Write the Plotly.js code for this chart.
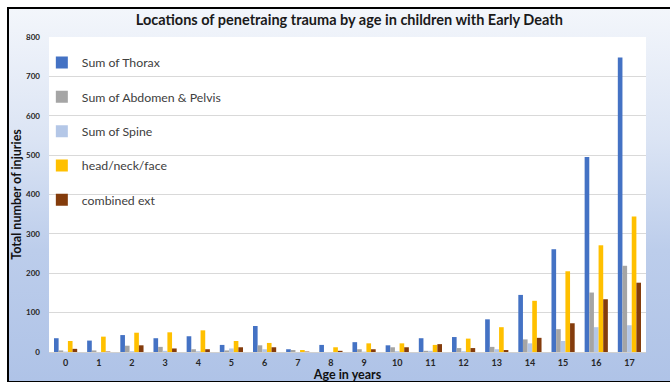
<!DOCTYPE html>
<html><head><meta charset="utf-8">
<script src="https://cdn.plot.ly/plotly-3.0.1.min.js"></script>
<style>
html,body{margin:0;padding:0;background:#fff;}
#wrap{position:relative;width:670px;height:382px;overflow:hidden;background:#fff;}
#bg{position:absolute;left:7px;top:7px;width:670px;height:372px;border-top:2px solid #000;border-left:2px solid #000;border-bottom:2px solid #000;
background:linear-gradient(to bottom,#f3f6fb 0%,#dbe4f4 35%,#bccdeb 65%,#afc3e7 100%);}
#chart{position:absolute;left:0;top:0;width:670px;height:382px;}
</style></head><body>
<div id="wrap"><div id="bg"></div><div id="chart"></div></div>
<script>
const ages = ['0','1','2','3','4','5','6','7','8','9','10','11','12','13','14','15','16','17'];
const thorax  = [35,29,43,35,40,18,66,7,18,25,17,35,38,83,145,261,495,748];
const abdomen = [4,4,16,13,7,4,17,5,0,7,12,3,10,13,32,58,151,219];
const spine   = [1,0,2,3,2,9,7,0,0,1,2,3,2,7,22,28,63,68];
const head    = [28,39,49,50,55,28,23,5,12,22,22,18,34,63,130,205,271,344];
const ext     = [8,1,17,9,7,12,12,1,3,7,12,20,10,5,36,73,134,176];
const names = ['Sum of Thorax','Sum of Abdomen &amp; Pelvis','Sum of Spine','head/neck/face','combined ext'];
const colors = ['#4472C4','#A5A5A5','#B4C7E7','#FFC000','#843C0C'];
const series = [thorax, abdomen, spine, head, ext];

const traces = series.map((s,i)=>({
  type:'bar', x:ages, y:s, name:names[i], legendgroup:'g'+i,
  marker:{color:colors[i]}, hoverinfo:'x+y'
}));

const layout = {
  width:670, height:382,
  paper_bgcolor:'rgba(0,0,0,0)', plot_bgcolor:'#ffffff',
  margin:{l:49, r:24, t:37, b:30},
  font:{family:'Lato, "Open Sans", sans-serif', color:'#262626'},
  title:{text:'<b>Locations of penetraing trauma by age in children with Early Death</b>',
    font:{size:14.5, color:'#1a1a1a'}, x:0.503, xref:'paper', y:0.947, yref:'container', yanchor:'middle'},
  barmode:'group', bargap:0.3, bargroupgap:0,
  xaxis:{type:'category', tickfont:{size:9, color:'#262626', weight:'bold'},
    showline:true, linecolor:'#d0d0d0', ticks:'', ticklabelstandoff:2,
    title:{text:'<b>Age in years</b>', font:{size:12.5, color:'#111'}, standoff:0}},
  yaxis:{range:[0,800], dtick:100, gridcolor:'#d9d9d9', gridwidth:1, zeroline:false,
    tickfont:{size:8, color:'#262626', weight:'bold'}, ticks:'', ticklabelstandoff:8,
    title:{text:'<b>Total number of injuries</b>', font:{size:12.5, color:'#111'}, standoff:1}},
  showlegend:true,
  legend:{x:-0.012, y:0.965, xanchor:'left', yanchor:'top', bgcolor:'rgba(0,0,0,0)',
    font:{size:12.3, color:'#404040'}, traceorder:'grouped', tracegroupgap:15.3, itemwidth:30}
};
Plotly.newPlot('chart', traces, layout, {displayModeBar:false, staticPlot:true});
</script>
</body></html>
